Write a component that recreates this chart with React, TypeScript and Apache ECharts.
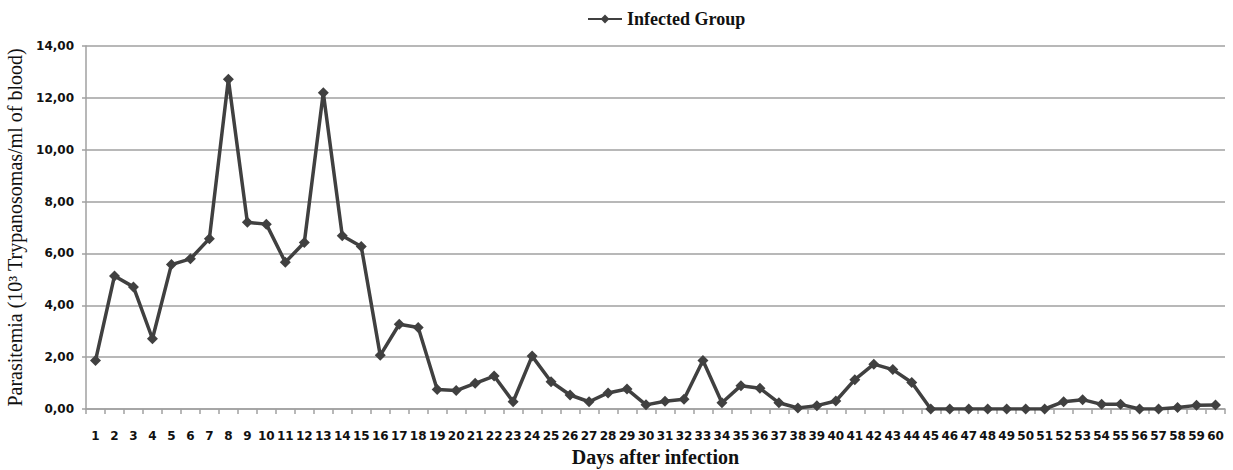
import React, { useEffect, useRef } from "react";
import * as echarts from "echarts";

const days: string[] = Array.from({ length: 60 }, (_, i) => String(i + 1));
const seriesName = "Infected Group";
const infected: number[] = [
  1.87, 5.13, 4.71, 2.71, 5.57, 5.79, 6.57, 12.72, 7.2, 7.13,
  5.66, 6.42, 12.2, 6.68, 6.27, 2.07, 3.27, 3.14, 0.75, 0.71,
  0.99, 1.27, 0.28, 2.04, 1.05, 0.54, 0.28, 0.62, 0.77, 0.16,
  0.3, 0.38, 1.87, 0.24, 0.9, 0.8, 0.24, 0.04, 0.13, 0.31,
  1.13, 1.73, 1.52, 1.02, 0, 0, 0, 0, 0, 0,
  0, 0.28, 0.36, 0.18, 0.18, 0, 0, 0.06, 0.14, 0.15,
];
const yTicks = { min: 0, max: 14, interval: 2 };
const yAxisTitle = "Parasitemia (10³ Trypanosomas/ml of blood)";
const xAxisTitle = "Days after infection";

export default function App() {
  const ref = useRef<HTMLDivElement>(null);
  useEffect(() => {
    if (!ref.current) return;
    const chart = echarts.init(ref.current, undefined, { renderer: "svg" });
    chart.setOption({
      animation: false,
      backgroundColor: "#ffffff",
      legend: {
        top: 5,
        left: 582,
        itemWidth: 34,
        itemHeight: 11,
        itemGap: 6,
        textStyle: {
          fontFamily: "Liberation Serif",
          fontWeight: "bold",
          fontSize: 18,
          color: "#111",
        },
        data: [seriesName],
      },
      grid: { left: 86, right: 8, top: 46, bottom: 61, outerBoundsMode: "none" },
      xAxis: {
        type: "category",
        data: days,
        boundaryGap: true,
        name: xAxisTitle,
        nameLocation: "middle",
        nameGap: 37,
        nameTextStyle: {
          fontFamily: "Liberation Serif",
          fontWeight: "bold",
          fontSize: 20,
          color: "#111",
        },
        axisLine: { lineStyle: { color: "#a0a0a0", width: 1.5 } },
        axisTick: { show: true, length: 5, lineStyle: { color: "#a0a0a0", width: 1.5 } },
        axisLabel: {
          interval: 0,
          margin: 21,
          fontFamily: "DejaVu Sans",
          fontWeight: "bold",
          fontSize: 12,
          color: "#111",
        },
      },
      yAxis: {
        type: "value",
        min: yTicks.min,
        max: yTicks.max,
        interval: yTicks.interval,
        name: yAxisTitle,
        nameLocation: "middle",
        nameGap: 58,
        nameTextStyle: {
          fontFamily: "Liberation Serif",
          fontSize: 20,
          color: "#111",
        },
        axisLine: { show: true, lineStyle: { color: "#a0a0a0", width: 1.5 } },
        axisTick: { show: true, length: 4, lineStyle: { color: "#a0a0a0", width: 1.5 } },
        axisLabel: {
          margin: 12,
          fontFamily: "DejaVu Sans",
          fontWeight: "bold",
          fontSize: 12,
          color: "#111",
          formatter: (v: number) => v.toFixed(2).replace(".", ","),
        },
        splitLine: { show: true, lineStyle: { color: "#a0a0a0", width: 1.5 } },
      },
      series: [
        {
          name: seriesName,
          type: "line",
          data: infected,
          symbol: "diamond",
          symbolSize: 11,
          showAllSymbol: true,
          lineStyle: { color: "#404040", width: 3.5 },
          itemStyle: { color: "#404040" },
        },
      ],
    });
    return () => chart.dispose();
  }, []);
  return (
    <div
      ref={ref}
      style={{ position: "fixed", left: 0, top: 0, width: 1233, height: 470 }}
    />
  );
}
